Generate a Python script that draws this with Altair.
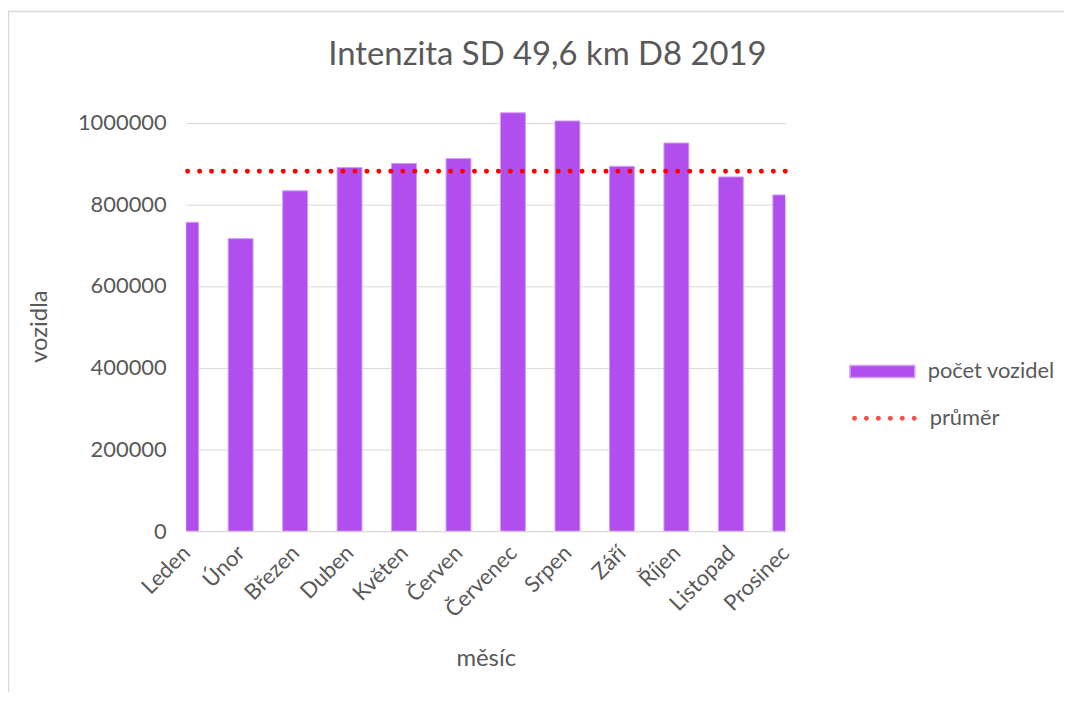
import altair as alt
import pandas as pd

# ---- data ----
months = ["Leden", "Únor", "Březen", "Duben", "Květen", "Červen",
          "Červenec", "Srpen", "Září", "Říjen", "Listopad", "Prosinec"]
vehicles = [756000, 716000, 833000, 890000, 900000, 912000,
            1024000, 1004000, 893000, 950000, 867000, 823000]
average = [880700]
y_ticks = [0, 200000, 400000, 600000, 800000, 1000000]
series_bar = "počet vozidel"
series_avg = "průměr"

FONT = "Lato"
GRAY = "#595959"
GRID = "#d9d9d9"
PURPLE = "#b14fee"
RED = "#ff0000"

df = pd.DataFrame({"mesic": months, "vozidla": vehicles, "serie": series_bar})
avg_df = pd.DataFrame({"prumer": average, "serie": series_avg})

W, H = 602, 431

# legend symbol for the dotted line: six filled dots in a row
R = 0.077
dot_centers = [-0.923, -0.554, -0.185, 0.185, 0.554, 0.923]
dots_path = "".join(
    f"M{c - R:.3f},0a{R},{R} 0 1,0 {2 * R:.3f},0a{R},{R} 0 1,0 {-2 * R:.3f},0Z"
    for c in dot_centers
)

y_axis = alt.Axis(
    values=y_ticks, format="d", grid=True, gridColor=GRID, gridWidth=1,
    domain=False, ticks=False, labelPadding=20, labelFontSize=22,
    labelColor=GRAY, labelFont=FONT,
    title="vozidla", titleFontSize=24, titleColor=GRAY, titleFont=FONT,
    titleFontWeight="normal", titleX=-147, titleY=225, titleAngle=-90,
    titleAlign="center", titleBaseline="middle",
)
y_scale = alt.Scale(domain=[0, 1050000], nice=False)

bars = alt.Chart(df).mark_bar(size=25, clip=True, stroke="#d39cf7", strokeWidth=1).encode(
    x=alt.X("mesic:N", sort=months,
            scale=alt.Scale(type="point", padding=0),
            axis=alt.Axis(
                title="měsíc", labelAngle=-45, labelAlign="right",
                labelBaseline="middle", labelPadding=18, ticks=False,
                domainColor=GRID, domainWidth=1, labelFontSize=22,
                labelColor=GRAY, labelFont=FONT,
                titleFontSize=24, titleColor=GRAY, titleFont=FONT,
                titleFontWeight="normal", titleX=W / 2, titleY=128,
                titleAlign="center", titleBaseline="middle",
            )),
    y=alt.Y("vozidla:Q", scale=y_scale, axis=y_axis),
    fill=alt.Fill("serie:N",
                  scale=alt.Scale(domain=[series_bar], range=[PURPLE]),
                  legend=alt.Legend(
                      title=None, orient="none", legendX=666, legendY=237,
                      symbolType="M-1,-0.185H1V0.185H-1Z", symbolSize=4225,
                      labelFontSize=22, labelColor=GRAY, labelFont=FONT,
                      labelOffset=12)),
)

# dotted average line
rule = alt.Chart(avg_df).mark_rule(
    color=RED, strokeWidth=5, strokeCap="round", strokeDash=[0.01, 12]
).encode(
    y=alt.Y("prumer:Q", scale=y_scale, axis=y_axis),
)

# legend carrier for the average series (drawn far outside the plot and clipped)
avg_key = alt.Chart(avg_df).mark_point(
    filled=True, shape=dots_path, size=4225, clip=True, yOffset=-2000
).encode(
    y=alt.Y("prumer:Q", scale=y_scale, axis=y_axis),
    fill=alt.Fill("serie:N",
                  scale=alt.Scale(domain=[series_avg], range=[RED]),
                  legend=alt.Legend(
                      title=None, orient="none", legendX=669, legendY=285,
                      symbolType=dots_path, symbolSize=4225,
                      symbolStrokeWidth=0,
                      labelFontSize=22, labelColor=GRAY, labelFont=FONT,
                      labelOffset=13)),
)

# thin chart-area frame (top and left edges, as in the reference)
frame_df = pd.DataFrame({"k": [0]})
frame_top = alt.Chart(frame_df).mark_rule(color=GRID, strokeWidth=1.5).encode(
    x=alt.value(-179), x2=alt.value(W + 283), y=alt.value(-91))
frame_left = alt.Chart(frame_df).mark_rule(color=GRID, strokeWidth=1.5).encode(
    x=alt.value(-178.5), y=alt.value(-91), y2=alt.value(H + 170))

chart = alt.layer(bars, rule, avg_key, frame_top, frame_left).resolve_scale(
    fill="independent"
).properties(
    width=W, height=H,
    autosize=alt.AutoSizeParams(type="none"),
    padding={"left": 179, "top": 93, "right": 280, "bottom": 160},
    title=alt.Title("Intenzita SD 49,6 km D8 2019", fontSize=33, font=FONT,
                    color=GRAY, fontWeight="normal", anchor="middle",
                    frame="group", dx=62, dy=122, offset=35, baseline="alphabetic"),
).configure(background="white").configure_view(stroke=None)

chart.save("out.html", embed_options={"renderer": "svg", "actions": False})
